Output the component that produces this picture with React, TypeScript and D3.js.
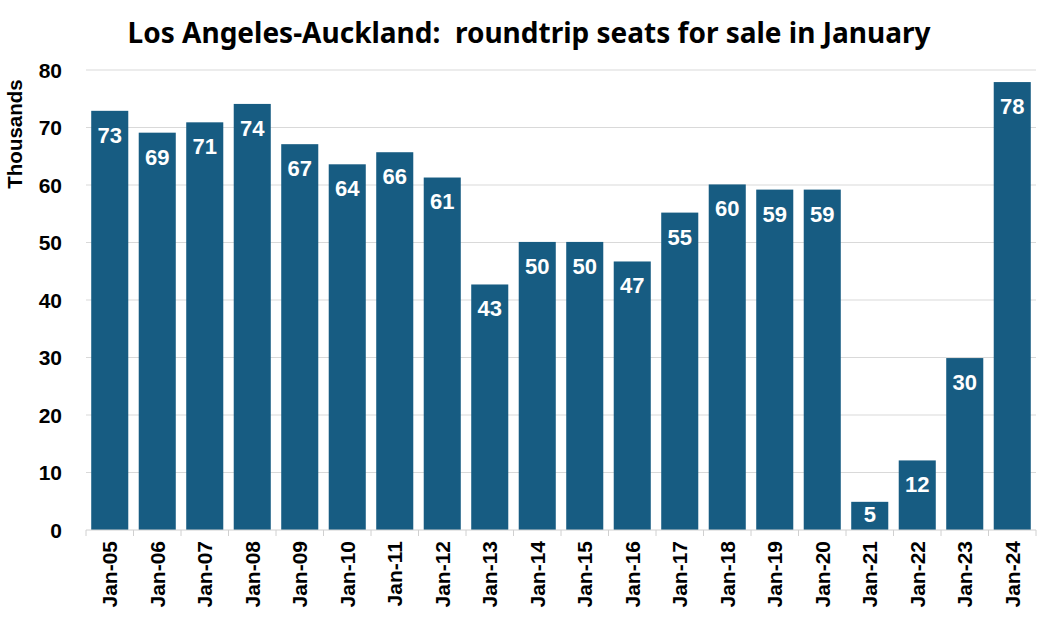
import { useEffect, useRef } from "react";
import * as d3 from "d3";

const categorias = [
  "Jan-05", "Jan-06", "Jan-07", "Jan-08", "Jan-09", "Jan-10", "Jan-11", "Jan-12", "Jan-13", "Jan-14",
  "Jan-15", "Jan-16", "Jan-17", "Jan-18", "Jan-19", "Jan-20", "Jan-21", "Jan-22", "Jan-23", "Jan-24",
];
const asientos = [72.9, 69.1, 70.9, 74.1, 67.1, 63.6, 65.7, 61.3, 42.7, 50.1, 50.1, 46.7, 55.2, 60.1, 59.2, 59.2, 4.9, 12.1, 29.9, 77.9];
const ticksY = [0, 10, 20, 30, 40, 50, 60, 70, 80];

const ANCHO = 1053;
const ALTO = 628;
const AZUL = "#175c82";
const FUENTE = "'Liberation Sans', Arial, sans-serif";

export default function App() {
  const svgRef = useRef<SVGSVGElement>(null);

  useEffect(() => {
    if (!svgRef.current) return;
    const svg = d3.select(svgRef.current);
    svg.selectAll("*").remove();

    const margen = { top: 70, right: 17, bottom: 98, left: 86 };
    const anchoInterno = ANCHO - margen.left - margen.right;
    const altoInterno = ALTO - margen.top - margen.bottom;

    const x = d3.scaleBand().domain(categorias).range([0, anchoInterno]).paddingInner(0.22).paddingOuter(0.11);
    const y = d3.scaleLinear().domain([0, 80]).range([altoInterno, 0]);

    const g = svg.append("g").attr("transform", `translate(${margen.left},${margen.top})`);

    // Título (con doble espacio tras los dos puntos)
    svg.append("text")
      .attr("x", 529)
      .attr("y", 43)
      .attr("text-anchor", "middle")
      .attr("font-family", "'Noto Sans', sans-serif")
      .attr("font-weight", 700)
      .attr("font-size", 28)
      .attr("fill", "#000")
      .style("white-space", "pre")
      .text("Los Angeles-Auckland:  roundtrip seats for sale in January");

    // Rejilla
    g.selectAll("line.rejilla")
      .data(ticksY.filter((t) => t > 0))
      .enter()
      .append("line")
      .attr("x1", 0)
      .attr("x2", anchoInterno)
      .attr("y1", (d) => y(d))
      .attr("y2", (d) => y(d))
      .attr("stroke", "#d9d9d9")
      .attr("stroke-width", 1);

    // Etiquetas eje Y
    g.selectAll("text.ticky")
      .data(ticksY)
      .enter()
      .append("text")
      .attr("x", -24)
      .attr("y", (d) => y(d))
      .attr("dy", "0.36em")
      .attr("text-anchor", "end")
      .attr("font-family", FUENTE)
      .attr("font-weight", 700)
      .attr("font-size", 21)
      .attr("fill", "#000")
      .text((d) => d);

    svg.append("text")
      .attr("transform", `translate(22,134) rotate(-90)`)
      .attr("text-anchor", "middle")
      .attr("font-family", FUENTE)
      .attr("font-weight", 700)
      .attr("font-size", 20.5)
      .attr("fill", "#000")
      .text("Thousands");

    // Barras
    g.selectAll("rect.barra")
      .data(asientos)
      .enter()
      .append("rect")
      .attr("x", (_, i) => x(categorias[i]) || 0)
      .attr("y", (d) => y(d))
      .attr("width", x.bandwidth())
      .attr("height", (d) => altoInterno - y(d))
      .attr("fill", AZUL);

    // Etiquetas de valor
    g.selectAll("text.valor")
      .data(asientos)
      .enter()
      .append("text")
      .attr("x", (_, i) => (x(categorias[i]) || 0) + x.bandwidth() / 2)
      .attr("y", (d) => y(d) + Math.min(24, (altoInterno - y(d)) / 2 - 2))
      .attr("dy", "0.36em")
      .attr("text-anchor", "middle")
      .attr("font-family", FUENTE)
      .attr("font-weight", 700)
      .attr("font-size", 22)
      .attr("fill", "#fff")
      .text((d) => Math.round(d));

    // Eje X
    g.append("line")
      .attr("x1", 0)
      .attr("x2", anchoInterno)
      .attr("y1", altoInterno)
      .attr("y2", altoInterno)
      .attr("stroke", "#d0d0d0")
      .attr("stroke-width", 1);

    const paso = x.step();
    const inicio = (x(categorias[0]) || 0) - (x.paddingInner() * paso) / 2;
    g.selectAll("line.marca")
      .data(d3.range(categorias.length + 1))
      .enter()
      .append("line")
      .attr("x1", (i) => inicio + i * paso)
      .attr("x2", (i) => inicio + i * paso)
      .attr("y1", altoInterno)
      .attr("y2", altoInterno + 6)
      .attr("stroke", "#d0d0d0")
      .attr("stroke-width", 1);

    g.selectAll("text.tickx")
      .data(categorias)
      .enter()
      .append("text")
      .attr("transform", (d) => `translate(${(x(d) || 0) + x.bandwidth() / 2},${altoInterno + 11}) rotate(-90)`)
      .attr("dy", "0.36em")
      .attr("text-anchor", "end")
      .attr("font-family", FUENTE)
      .attr("font-weight", 700)
      .attr("font-size", 21)
      .attr("fill", "#000")
      .text((d) => d);
  }, []);

  return (
    <svg
      ref={svgRef}
      width={ANCHO}
      height={ALTO}
      viewBox={`0 0 ${ANCHO} ${ALTO}`}
      style={{ position: "absolute", left: 0, top: 0, background: "#fff" }}
    />
  );
}
